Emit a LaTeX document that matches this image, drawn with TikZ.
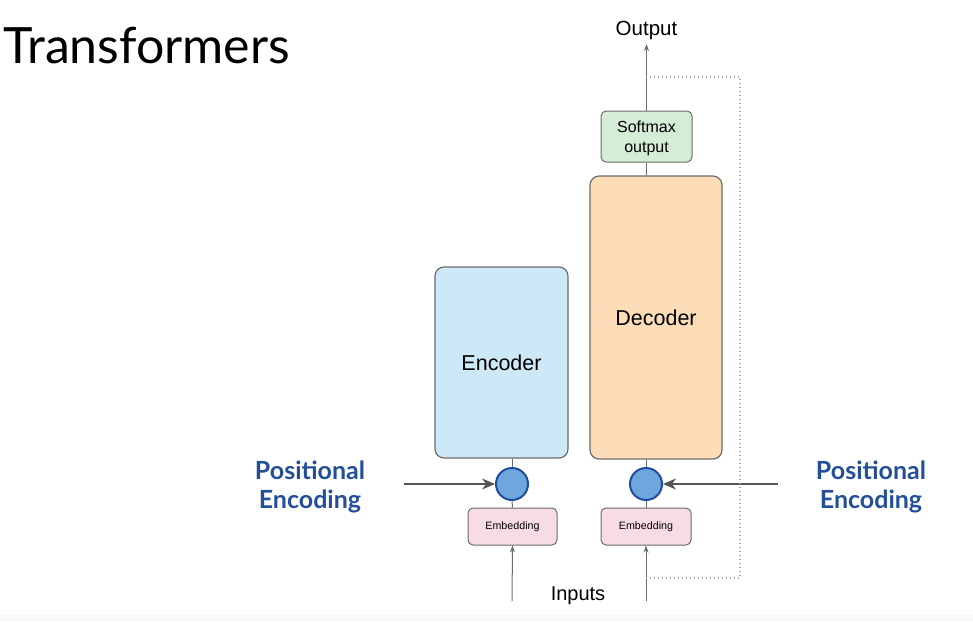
\documentclass[tikz,border=0pt]{standalone}
\usepackage{fontspec}
\setmainfont{Liberation Sans}
\newfontfamily\latofont{Lato}
\usetikzlibrary{arrows.meta}
\definecolor{encfill}{HTML}{CDE8F7}
\definecolor{decfill}{HTML}{FCDDB8}
\definecolor{smfill}{HTML}{D5ECD6}
\definecolor{embfill}{HTML}{F8DCE3}
\definecolor{boxline}{HTML}{6B6B6B}
\definecolor{circfill}{HTML}{6FA6DE}
\definecolor{circline}{HTML}{1D4E9E}
\definecolor{peblue}{HTML}{234E98}
\definecolor{arrgray}{HTML}{555555}
\tikzset{
  blockbox/.style={draw=boxline, line width=1.2pt, rounded corners=9pt, inner sep=0pt},
  smallbox/.style={draw=boxline, line width=1pt, rounded corners=5pt, inner sep=0pt, align=center},
  addcirc/.style={circle, draw=circline, fill=circfill, line width=2pt, minimum size=32pt, inner sep=0pt},
  thinline/.style={draw=boxline, line width=1pt},
  thinarrow/.style={draw=boxline, line width=1pt, -{Stealth[length=7pt,width=5pt]}},
  thickarrow/.style={draw=arrgray, line width=2pt, -{Stealth[length=13pt,width=11pt]}},
  petext/.style={text=peblue, font=\latofont\bfseries\fontsize{25}{29}\selectfont, align=center},
  dots/.style={draw=gray!70, line width=1.2pt, dash pattern=on 1.2pt off 2.8pt}
}
\begin{document}
\begin{tikzpicture}[x=1pt,y=-1pt]
\useasboundingbox (0,0) rectangle (973,622);
\fill[gray!5] (0,615) rectangle (973,622);
\node[anchor=base west, font=\latofont\fontsize{50}{58}\selectfont, inner sep=0pt] (title) at (3,63) {Transformers};
% blocks
\node[blockbox, fill=encfill, minimum width=133pt, minimum height=191pt, font=\fontsize{21.5}{25}\selectfont] (enc) at (501.5,362.5) {Encoder};
\node[blockbox, fill=decfill, minimum width=132pt, minimum height=283pt] (dec) at (656,317.5) {};
\node[font=\fontsize{21.5}{25}\selectfont] (declab) at (656,318) {Decoder};
\node[smallbox, fill=smfill, minimum width=91pt, minimum height=51pt] (sm) at (646.5,136.5) {};
\node[font=\fontsize{16}{20}\selectfont, align=center] (smlab) at (646.5,138.5) {Softmax\\output};
\node[font=\fontsize{20.5}{24}\selectfont, inner sep=1pt] (out) at (646.5,30) {Output};
% circles
\node[addcirc] (c1) at (512,484) {};
\node[addcirc] (c2) at (646,484) {};
% embeddings
\node[smallbox, fill=embfill, minimum width=89pt, minimum height=37pt, font=\fontsize{10.7}{12}\selectfont] (e1) at (512.5,526.5) {Embedding};
\node[smallbox, fill=embfill, minimum width=90pt, minimum height=37pt, font=\fontsize{10.7}{12}\selectfont] (e2) at (646,526.5) {Embedding};
\node[font=\fontsize{20}{24}\selectfont] (inp) at (578,596) {Inputs};
% coordinates
\coordinate (i1) at (512,601);
\coordinate (i2) at (646,601);
\coordinate (pl) at (404,484);
\coordinate (pr) at (778,484);
\coordinate (d1) at (646,77);
\coordinate (d2) at (740,77);
\coordinate (d3) at (740,578);
\coordinate (d4) at (646,578);
% connectors
\draw[thinarrow] (i1) -- (e1.south);
\draw[thinarrow] (i2) -- (e2.south);
\draw[thinline] (e1.north) -- (c1.south);
\draw[thinline] (e2.north) -- (c2.south);
\draw[thinline] (c1.north) -- (c1.north |- enc.south);
\draw[thinline] (c2.north) -- (c2.north |- dec.south);
\draw[thinline] (sm.south) -- (sm.south |- dec.north);
\draw[thinarrow] (sm.north) -- (646.5,44);
\draw[thickarrow] (pl) -- (c1.west);
\draw[thickarrow] (pr) -- (c2.east);
\draw[dots] (d1) -- (d2) -- (d3) -- (d4);
% positional encoding labels
\node[petext] (pe1) at (310,487) {Positional\\Encoding};
\node[petext] (pe2) at (871,487) {Positional\\Encoding};
\end{tikzpicture}
\end{document}
